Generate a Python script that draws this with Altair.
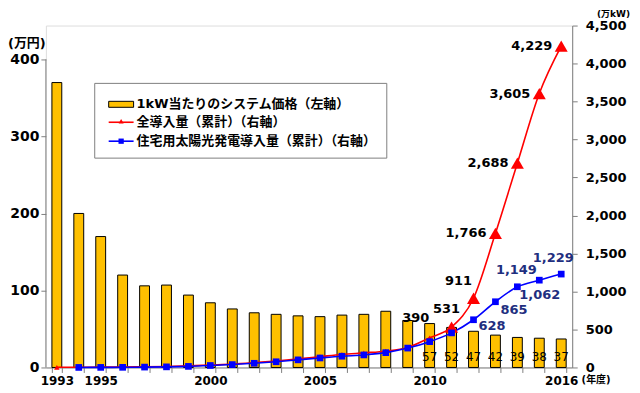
import altair as alt
import pandas as pd

years = list(range(1993, 2017))
price = [370, 200, 170, 120, 106, 107, 94, 84, 76, 71, 69, 67, 66, 68, 69, 73, 61, 57, 52, 47, 42, 39, 38, 37]
total = [2, 3, 4, 6, 9, 13, 21, 33, 45, 64, 86, 113, 142, 171, 192, 214, 263, 390, 531, 911, 1766, 2688, 3605, 4229]
resid = [None, 0.5, 1, 2, 5, 8, 14, 26, 38, 55, 75, 100, 125, 148, 165, 195, 255, 340, 455, 628, 865, 1062, 1149, 1229]
legend_labels = ["1kW当たりのシステム価格（左軸）", "全導入量（累計）（右軸）", "住宅用太陽光発電導入量（累計）（右軸）"]
shown_years = [1993, 1995, 2000, 2005, 2010, 2016]
left_ticks = [0, 100, 200, 300, 400]
right_ticks = list(range(0, 4501, 500))

FONT = "DejaVu Sans, Noto Sans CJK JP"
GRAY = "#808080"
GOLD = "#FFC000"
NAVY = "#1F2F80"
H = 343

df = pd.DataFrame({"year": years, "price": price, "total": total, "resid": resid})
one = pd.DataFrame({"lo": [0], "hi": [400]})

label_test = " || ".join(f"datum.value == {y}" for y in shown_years)
x_enc = alt.X(
    "year:O",
    scale=alt.Scale(paddingInner=0.55, paddingOuter=0.275),
    axis=alt.Axis(
        title=None, labelAngle=0, labelExpr=f"({label_test}) ? datum.label : ''",
        tickBand="extent", domainColor=GRAY, tickColor=GRAY, tickSize=5,
        labelFontSize=12, labelFontWeight="bold", labelFont=FONT, labelColor="black",
        labelPadding=3, grid=False,
    ),
)

left_scale = alt.Scale(domain=[0, 400 * H / 309], nice=False, zero=True)
left_axis = alt.Axis(
    title=None, values=left_ticks, domain=False, tickColor=GRAY, tickSize=5,
    labelFontSize=14, labelFontWeight="bold", labelFont=FONT, labelColor="black",
    labelPadding=2, grid=False,
)
right_scale = alt.Scale(domain=[0, 4500], nice=False)
right_axis = alt.Axis(
    title=None, orient="right", values=right_ticks, labelExpr="format(datum.value, ',')",
    domainColor=GRAY, tickColor=GRAY, tickSize=5, labelFontSize=13, labelFontWeight="bold",
    labelFont=FONT, labelColor="black", labelPadding=8, grid=False,
)

base = alt.Chart(df)

# ---- left (price) layer ----
bars = base.mark_bar(color=GOLD, stroke="black", strokeWidth=1).encode(
    x=x_enc, y=alt.Y("price:Q", scale=left_scale, axis=left_axis)
)
bar_text = base.transform_filter("datum.year >= 2010").transform_calculate(lo_="0").mark_text(
    baseline="alphabetic", dy=-6, fontSize=12, font=FONT, color="black"
).encode(
    x=x_enc, y=alt.Y("lo_:Q", scale=left_scale, axis=left_axis), text=alt.Text("price:Q")
)
left_rule = alt.Chart(one).mark_rule(color=GRAY, strokeWidth=1).encode(
    x=alt.value(0), y=alt.Y("lo:Q", scale=left_scale, axis=left_axis), y2="hi:Q"
)
left = alt.layer(bars, bar_text, left_rule)

# ---- right (capacity) layer ----
yT = alt.Y("total:Q", scale=right_scale, axis=right_axis)
yR = alt.Y("resid:Q", scale=right_scale, axis=right_axis)

red_line = base.mark_line(color="#FF0000", strokeWidth=1.6, interpolate="monotone").encode(x=x_enc, y=yT)
red_pts = base.mark_point(shape="triangle-up", filled=True, color="#FF0000", opacity=1).encode(
    x=x_enc, y=yT,
    size=alt.condition("datum.year >= 2011", alt.value(170), alt.value(30)),
)
bdf = base.transform_filter("isValid(datum.resid)")
blue_line = bdf.mark_line(color="#0000FF", strokeWidth=1.6, interpolate="monotone").encode(x=x_enc, y=yR)
blue_pts = bdf.mark_point(shape="square", filled=True, color="#0000FF", opacity=1, size=45).encode(x=x_enc, y=yR)


def lab(field, yrs, color, align, dx, dy):
    y = yT if field == "total" else yR
    return base.transform_filter(alt.FieldOneOfPredicate(field="year", oneOf=yrs)).mark_text(
        align=align, baseline="middle", dx=dx, dy=dy, fontSize=13, fontWeight="bold",
        font=FONT, color=color,
    ).encode(x=x_enc, y=y, text=alt.Text(f"{field}:Q", format=","))


labels = [
    lab("total", [2010], "black", "center", -14, -20),
    lab("total", [2011], "black", "center", -5, -18),
    lab("total", [2012], "black", "center", -15, -17),
    lab("total", [2013, 2014, 2015, 2016], "black", "right", -9, 0),
    lab("resid", [2012], NAVY, "left", 5, 6),
    lab("resid", [2013], NAVY, "left", 5, 8),
    lab("resid", [2014], NAVY, "left", 2, 8),
    lab("resid", [2015], NAVY, "center", -23, -10),
    lab("resid", [2016], NAVY, "center", -8, -16),
]
right = alt.layer(red_line, blue_line, red_pts, blue_pts, *labels)

# ---- legend & annotations ----
oc = alt.Chart(one)
leg_box = oc.mark_rect(fill="white", stroke=GRAY, strokeWidth=1).encode(
    x=alt.value(49), x2=alt.value(342), y=alt.value(58), y2=alt.value(133)
)
leg_bar = oc.mark_rect(fill=GOLD, stroke="black", strokeWidth=1).encode(
    x=alt.value(63), x2=alt.value(88), y=alt.value(76), y2=alt.value(82)
)
leg_red = oc.mark_rule(color="#FF0000", strokeWidth=1.6).encode(
    x=alt.value(63), x2=alt.value(88), y=alt.value(97)
)
leg_red_pt = oc.mark_point(shape="triangle-up", filled=True, color="#FF0000", opacity=1, size=25).encode(
    x=alt.value(75.5), y=alt.value(96)
)
leg_blue = oc.mark_rule(color="#0000FF", strokeWidth=1.6).encode(
    x=alt.value(63), x2=alt.value(88), y=alt.value(116)
)
leg_blue_pt = oc.mark_point(shape="square", filled=True, color="#0000FF", opacity=1, size=28).encode(
    x=alt.value(75.5), y=alt.value(116)
)
leg_texts = [
    oc.mark_text(align="left", baseline="middle", fontSize=13, fontWeight="bold", font=FONT,
                 color="black", text=t).encode(x=alt.value(91), y=alt.value(yy))
    for t, yy in zip(legend_labels, [79, 97, 116])
]
unit_left = oc.mark_text(align="left", fontSize=13, fontWeight="bold", font=FONT, color="black",
                         text="(万円)").encode(x=alt.value(-38), y=alt.value(18))
unit_right = oc.mark_text(align="right", fontSize=9, fontWeight="bold", font=FONT, color="black",
                          text="(万kW)").encode(x=alt.value(586), y=alt.value(-12))
unit_year = oc.mark_text(fontSize=10, fontWeight="bold", font=FONT, color="black",
                         text="(年度)").encode(x=alt.value(552), y=alt.value(356))

annot = alt.layer(leg_box, leg_bar, leg_red, leg_blue, leg_red_pt, leg_blue_pt, *leg_texts,
                  unit_left, unit_right, unit_year)

chart = alt.layer(left, right, annot).resolve_scale(y="independent").properties(
    width=528, height=H,
    autosize=alt.AutoSizeParams(type="none"),
    padding={"left": 38, "top": 17, "right": 60, "bottom": 25},
).configure_view(stroke=None).configure(background="white")

chart.save("out.html", embed_options={"renderer": "svg", "actions": False})
